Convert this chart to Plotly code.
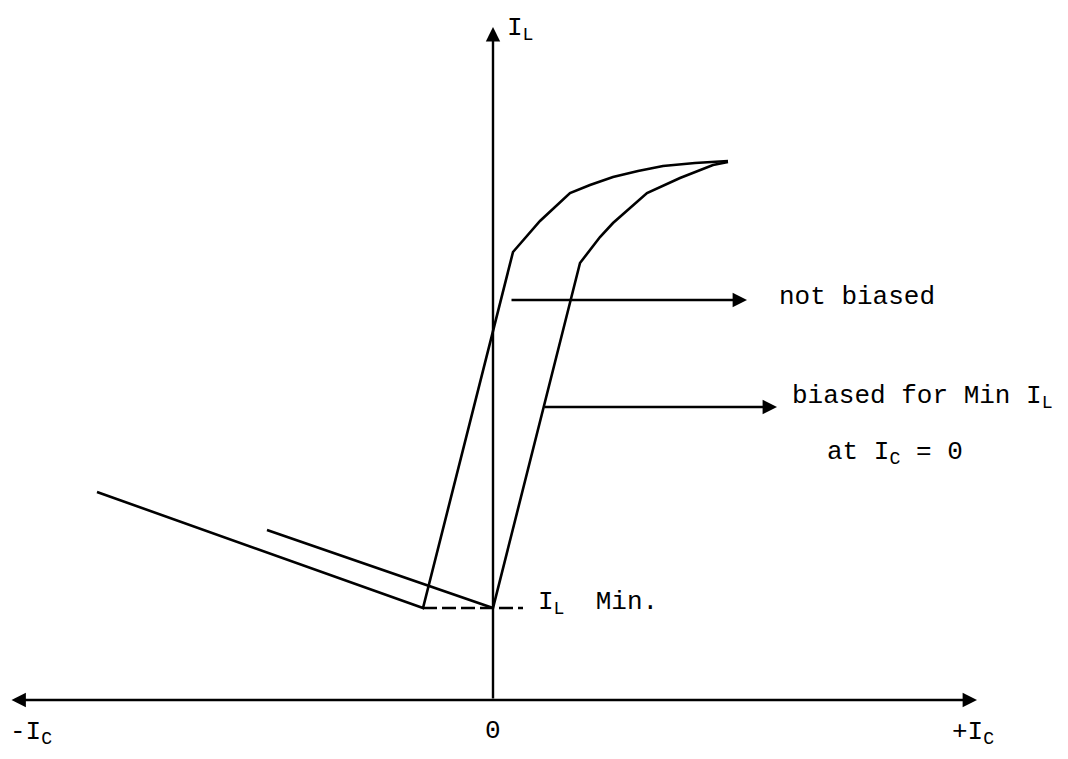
import plotly.graph_objects as go

# Schematic values: I_C (x) and I_L (y) in arbitrary units, origin at axis crossing
nb_ic = [-3.96, -0.70, 0.20, 0.47, 0.77, 0.97, 1.20, 1.45, 1.70, 2.02, 2.35]
nb_il = [2.08, 0.92, 4.48, 4.79, 5.07, 5.15, 5.23, 5.29, 5.34, 5.37, 5.39]
b_ic = [-2.26, 0.00, 0.87, 1.07, 1.20, 1.54, 1.87, 2.20, 2.35]
b_il = [1.70, 0.92, 4.37, 4.63, 4.77, 5.07, 5.22, 5.35, 5.38]
il_min = 0.92
il_min_dash_ic = [-0.70, 0.30]

# label arrows (start I_C, end I_C, level I_L)
nb_arrow = (0.17, 2.54, 4.00)
b_arrow = (0.50, 2.84, 2.93)

# axis extents
ic_axis = (-4.83, 4.84)
il_axis_top = 6.73

FONT = "Courier New, Liberation Mono, monospace"
FS = 26
LW = 2.6

fig = go.Figure()
fig.add_trace(go.Scatter(x=nb_ic, y=nb_il, mode="lines",
                         line=dict(color="black", width=LW), hoverinfo="skip"))
fig.add_trace(go.Scatter(x=b_ic, y=b_il, mode="lines",
                         line=dict(color="black", width=LW), hoverinfo="skip"))
fig.add_trace(go.Scatter(x=il_min_dash_ic, y=[il_min, il_min], mode="lines",
                         line=dict(color="black", width=LW, dash="14px,5px"), hoverinfo="skip"))

ann = []
# horizontal axis with arrows at both ends
ann.append(dict(x=ic_axis[1], y=0, ax=ic_axis[0], ay=0, xref="x", yref="y",
                axref="x", ayref="y", text="", showarrow=True, arrowhead=2,
                arrowside="end+start", arrowsize=1.2, arrowwidth=2.4, arrowcolor="black"))
# vertical axis
ann.append(dict(x=0, y=il_axis_top, ax=0, ay=0, xref="x", yref="y",
                axref="x", ayref="y", text="", showarrow=True, arrowhead=2,
                arrowsize=1.2, arrowwidth=2.4, arrowcolor="black"))
# label arrows
for (x0, x1, yv) in (nb_arrow, b_arrow):
    ann.append(dict(x=x1, y=yv, ax=x0, ay=yv, xref="x", yref="y",
                    axref="x", ayref="y", text="", showarrow=True, arrowhead=2,
                    arrowsize=1.2, arrowwidth=2.4, arrowcolor="black"))

def label(x, y, t, xa="left", ya="middle"):
    ann.append(dict(x=x, y=y, xref="x", yref="y", text=t, showarrow=False,
                    xanchor=xa, yanchor=ya, font=dict(family=FONT, size=FS, color="black")))

label(2.84, 4.03, "not biased")
label(2.97, 3.03, "biased for Min I<sub>L</sub>")
label(3.32, 2.47, "at I<sub>C</sub> = 0")
label(0.43, 0.97, "I<sub>L</sub>  Min.")
label(0.12, 6.89, "I<sub>L</sub>", ya="top")
label(-4.85, -0.33, "-I<sub>C</sub>")
label(4.57, -0.33, "+I<sub>C</sub>")
label(0.0, -0.31, "0", xa="center")
fig.update_layout(annotations=ann)

# page body has an 8px default margin, ranges shifted to compensate
fig.update_layout(
    width=1068, height=759,
    margin=dict(l=0, r=0, t=0, b=0),
    paper_bgcolor="white", plot_bgcolor="white",
    showlegend=False,
    xaxis=dict(range=[-4.85, 5.83], visible=False, fixedrange=True),
    yaxis=dict(range=[-0.67, 6.92], visible=False, fixedrange=True),
)
fig.write_html("out.html")
